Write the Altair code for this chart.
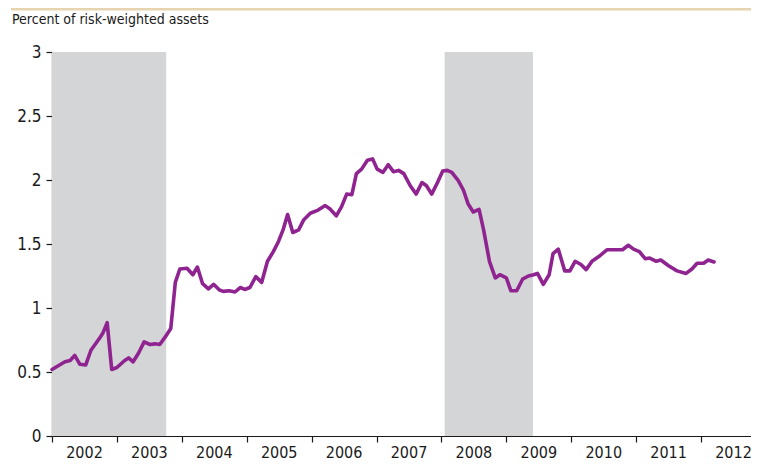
import altair as alt
import pandas as pd

# ---- data (decimal years, percent of risk-weighted assets) ----
years = [
    2002.00, 2002.20, 2002.28, 2002.35, 2002.43, 2002.52, 2002.60, 2002.74, 2002.78, 2002.85,
    2002.92, 2003.00, 2003.12, 2003.18, 2003.25, 2003.33, 2003.42, 2003.51, 2003.59, 2003.66,
    2003.74, 2003.83, 2003.90, 2003.97, 2004.08, 2004.17, 2004.24, 2004.32, 2004.41, 2004.49,
    2004.58, 2004.64, 2004.73, 2004.82, 2004.90, 2004.97, 2005.05, 2005.14, 2005.23, 2005.32,
    2005.41, 2005.49, 2005.56, 2005.63, 2005.71, 2005.80, 2005.88, 2005.98, 2006.10, 2006.21,
    2006.28, 2006.38, 2006.46, 2006.54, 2006.62, 2006.69, 2006.77, 2006.86, 2006.94, 2007.01,
    2007.10, 2007.18, 2007.26, 2007.34, 2007.42, 2007.52, 2007.61, 2007.70, 2007.77, 2007.85,
    2007.94, 2008.02, 2008.09, 2008.16, 2008.26, 2008.34, 2008.41, 2008.49, 2008.58, 2008.65,
    2008.74, 2008.83, 2008.90, 2009.00, 2009.07, 2009.16, 2009.25, 2009.34, 2009.42, 2009.48,
    2009.57, 2009.66, 2009.72, 2009.80, 2009.90, 2009.98, 2010.06, 2010.15, 2010.23, 2010.32,
    2010.42, 2010.55, 2010.67, 2010.79, 2010.88, 2010.96, 2011.05, 2011.14, 2011.21, 2011.31,
    2011.38, 2011.50, 2011.63, 2011.77, 2011.86, 2011.94, 2012.04, 2012.11, 2012.20,
]
values = [
    0.52, 0.58, 0.59, 0.63, 0.56, 0.555, 0.67, 0.77, 0.80, 0.885,
    0.52, 0.535, 0.59, 0.61, 0.58, 0.645, 0.735, 0.715, 0.72, 0.715,
    0.77, 0.84, 1.20, 1.305, 1.31, 1.26, 1.32, 1.19, 1.15, 1.185,
    1.14, 1.13, 1.135, 1.125, 1.16, 1.145, 1.16, 1.245, 1.20, 1.365,
    1.44, 1.52, 1.61, 1.73, 1.59, 1.61, 1.69, 1.74, 1.765, 1.80,
    1.775, 1.72, 1.79, 1.89, 1.885, 2.05, 2.085, 2.155, 2.165, 2.085,
    2.06, 2.12, 2.065, 2.075, 2.05, 1.955, 1.89, 1.98, 1.955, 1.89,
    1.98, 2.07, 2.075, 2.06, 1.995, 1.92, 1.815, 1.75, 1.77, 1.61,
    1.365, 1.235, 1.26, 1.235, 1.135, 1.135, 1.225, 1.25, 1.26, 1.27,
    1.185, 1.26, 1.425, 1.46, 1.29, 1.29, 1.365, 1.34, 1.30, 1.365,
    1.40, 1.455, 1.455, 1.455, 1.49, 1.46, 1.44, 1.385, 1.39, 1.365,
    1.375, 1.33, 1.29, 1.27, 1.305, 1.35, 1.35, 1.375, 1.36,
]
recession_start = [2002.00, 2008.05]
recession_end = [2003.76, 2009.41]
year_ticks = [2002, 2003, 2004, 2005, 2006, 2007, 2008, 2009, 2010, 2011, 2012]
y_ticks = [0, 0.5, 1, 1.5, 2, 2.5, 3]
title_text = "Percent of risk-weighted assets"

# ---- layout / style ----
W, H = 699, 384
FONT = "DejaVu Sans Condensed, Liberation Sans Narrow, sans-serif"
INK = "#1a1a1a"

df = pd.DataFrame({"year": years, "value": values})
shade = pd.DataFrame({"start": recession_start, "end": recession_end})
title_df = pd.DataFrame({"t": [title_text]})

xscale = alt.Scale(domain=[2002, 2012.77], nice=False, zero=False)
yscale = alt.Scale(domain=[0, 3], nice=False, zero=True)

xaxis = alt.Axis(
    values=year_ticks, format="d", title=None, grid=False,
    domainColor=INK, domainWidth=1.2, tickColor=INK, tickSize=6, tickWidth=1.2,
    labelOffset=32, labelFont=FONT, labelFontSize=16, labelColor=INK,
    labelPadding=2, labelOverlap=False, labelFlush=False, labelBound=False,
)
yaxis = alt.Axis(
    values=y_ticks, format="~g", title=None, grid=False,
    domainColor=INK, domainWidth=1.2, tickColor=INK, tickSize=6, tickWidth=1.2,
    labelFont=FONT, labelFontSize=17, labelColor=INK, labelPadding=5,
    labelOverlap=False, labelFlush=False,
)

rects = alt.Chart(shade).mark_rect(color="#d4d5d7").encode(
    x=alt.X("start:Q", scale=xscale, axis=xaxis),
    x2="end:Q",
    y=alt.Y(datum=3, type="quantitative", scale=yscale, axis=yaxis),
    y2=alt.Y2(datum=0),
)

line = alt.Chart(df).mark_line(
    color="#8f2390", strokeWidth=3.6, strokeJoin="round", strokeCap="round"
).encode(
    x=alt.X("year:Q", scale=xscale, axis=xaxis),
    y=alt.Y("value:Q", scale=yscale, axis=yaxis),
)

title = alt.Chart(title_df).mark_text(
    align="left", baseline="middle", font=FONT, fontSize=14, color=INK
).encode(x=alt.value(-40), y=alt.value(-32), text="t:N")

topline = alt.Chart(title_df).mark_rule(color="#e6d4b0", strokeWidth=3).encode(
    x=alt.value(-41), x2=alt.value(W), y=alt.value(-43)
)

chart = (
    alt.layer(rects, line, title, topline)
    .properties(
        width=W, height=H,
        autosize=alt.AutoSizeParams(type="none"),
        padding={"left": 44, "top": 44, "right": 0, "bottom": 24},
        background="white",
    )
    .configure_view(stroke=None)
)

chart.save("out.html", embed_options={"renderer": "svg", "actions": False})
